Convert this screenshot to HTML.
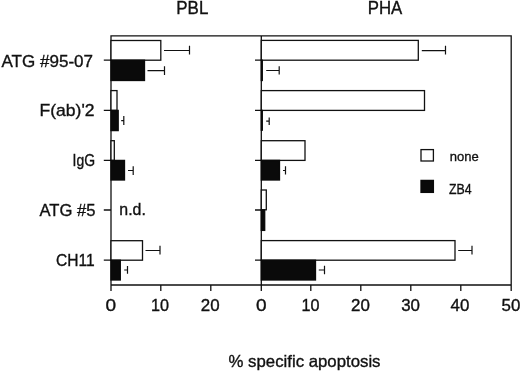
<!DOCTYPE html>
<html><head><meta charset="utf-8"><title>% specific apoptosis</title>
<style>
html,body{margin:0;padding:0;background:#fff;}
svg{display:block;}
text{font-family:"Liberation Sans",sans-serif;fill:#111;stroke:#111;stroke-width:0.35;}
.l{stroke:#111;stroke-width:1.3;fill:none;}
.w{stroke:#111;stroke-width:1.3;fill:#fff;}
.b{stroke:#0a0a0a;stroke-width:1.3;fill:#0a0a0a;}
.e{stroke:#111;stroke-width:1.2;fill:none;}
</style></head><body>
<svg width="520" height="372" viewBox="0 0 520 372">
<rect width="520" height="372" fill="#fff"/>
<!-- titles -->
<text x="176.3" y="14.3" font-size="17.5" textLength="32" lengthAdjust="spacingAndGlyphs">PBL</text>
<text x="367.8" y="14.2" font-size="17.5" textLength="34.5" lengthAdjust="spacingAndGlyphs">PHA</text>
<!-- frame -->
<path class="l" d="M111 291V35.8H511.2V291M111 285H511.2M261.3 35.8V291"/>
<!-- x ticks -->
<path class="l" d="M160.8 285v6M210.8 285v6M310.8 285v6M360.8 285v6M410.8 285v6M460.8 285v6"/>
<!-- y ticks -->
<path class="l" d="M103.8 60.2H111M103.8 110.4H111M103.8 160.4H111M103.8 210H111M103.8 260.2H111M255 60.2h6.3M255 110.4h6.3M255 160.4h6.3M255 210h6.3M255 260.2h6.3"/>
<!-- PBL bars -->
<rect class="w" x="111" y="40.5" width="49.8" height="19.7"/>
<rect class="b" x="111" y="60.2" width="33.5" height="20.3"/>
<rect class="w" x="111" y="90.6" width="6" height="19.8"/>
<rect class="b" x="111" y="110.4" width="7.2" height="20.2"/>
<rect class="w" x="111" y="140.7" width="3.3" height="19.7"/>
<rect class="b" x="111" y="160.4" width="13.5" height="19.6"/>
<rect class="w" x="111" y="240.7" width="31.5" height="19.5"/>
<rect class="b" x="111" y="260.2" width="9.3" height="19.8"/>
<!-- PBL errors -->
<path class="e" d="M164 50.5H189.5M189.5 45.8v8.8M147.5 70.7H164.5M164.5 66.2v8.8M121.2 120.6h2.6M123.8 116v9M128 170.5h5.2M133.2 166.2v8.8M145.5 250.5H160M160 245.8v8.8M124.2 270h3.3M127.5 266v7.8"/>
<!-- PHA bars -->
<rect class="w" x="261.3" y="40.4" width="157" height="19.8"/>
<rect class="b" x="261.3" y="60.2" width="1" height="20.3"/>
<rect class="w" x="261.3" y="90.6" width="163.2" height="19.8"/>
<rect class="b" x="261.3" y="110.4" width="1" height="19.8"/>
<rect class="w" x="261.3" y="140.7" width="43.7" height="19.7"/>
<rect class="b" x="261.3" y="160.4" width="18.2" height="19.6"/>
<rect class="w" x="261.3" y="190" width="5" height="19.8"/>
<rect class="b" x="261.3" y="209.8" width="3.4" height="20.6"/>
<rect class="w" x="261.3" y="240.6" width="193.7" height="19.6"/>
<rect class="b" x="261.3" y="260.2" width="54.2" height="19.8"/>
<!-- PHA errors -->
<path class="e" d="M266.2 70.5h13M279.2 66.2v8.4M421.8 50.7H445.5M445.5 45.8v8.8M266.2 121.2h3M269.2 117.5v7.5M283 170.5h2.5M285.5 166.2v8.4M458.2 250.5H472M472 245.8v8.8M318.8 270h5.7M324.5 265.8v8.5"/>
<!-- legend -->
<rect class="w" x="421" y="149.6" width="12.4" height="11.4"/>
<rect class="b" x="421" y="180.4" width="12.4" height="12"/>
<text x="449.7" y="160.8" font-size="13.5" textLength="29" lengthAdjust="spacingAndGlyphs">none</text>
<text x="448.9" y="193.9" font-size="14.5" textLength="22.6" lengthAdjust="spacingAndGlyphs">ZB4</text>
<!-- y labels -->
<text x="1.5" y="66.5" font-size="17" textLength="91.5" lengthAdjust="spacingAndGlyphs">ATG #95-07</text>
<text x="39.5" y="116.3" font-size="17" textLength="55" lengthAdjust="spacingAndGlyphs">F(ab)'2</text>
<text x="72.5" y="166.2" font-size="17" textLength="22.5" lengthAdjust="spacingAndGlyphs">IgG</text>
<text x="39.5" y="216.2" font-size="17" textLength="56" lengthAdjust="spacingAndGlyphs">ATG #5</text>
<text x="56" y="266" font-size="17" textLength="38.6" lengthAdjust="spacingAndGlyphs">CH11</text>
<text x="119.3" y="214.5" font-size="16.5" textLength="26.5" lengthAdjust="spacingAndGlyphs">n.d.</text>
<!-- x labels -->
<g font-size="16.5" text-anchor="middle">
<text x="110.7" y="310.6" textLength="10.6" lengthAdjust="spacingAndGlyphs">0</text>
<text x="160" y="310.6" textLength="18" lengthAdjust="spacingAndGlyphs">10</text>
<text x="210.2" y="310.6" textLength="18.8" lengthAdjust="spacingAndGlyphs">20</text>
<text x="261.4" y="310.6" textLength="10.6" lengthAdjust="spacingAndGlyphs">0</text>
<text x="310.6" y="310.6" textLength="18" lengthAdjust="spacingAndGlyphs">10</text>
<text x="360.4" y="310.6" textLength="18.8" lengthAdjust="spacingAndGlyphs">20</text>
<text x="410.6" y="310.6" textLength="18.8" lengthAdjust="spacingAndGlyphs">30</text>
<text x="460" y="310.6" textLength="18.8" lengthAdjust="spacingAndGlyphs">40</text>
<text x="511" y="310.6" textLength="18.8" lengthAdjust="spacingAndGlyphs">50</text>
</g>
<text x="228.5" y="367.2" font-size="16.5" textLength="152" lengthAdjust="spacingAndGlyphs">% specific apoptosis</text>
</svg>
</body></html>
